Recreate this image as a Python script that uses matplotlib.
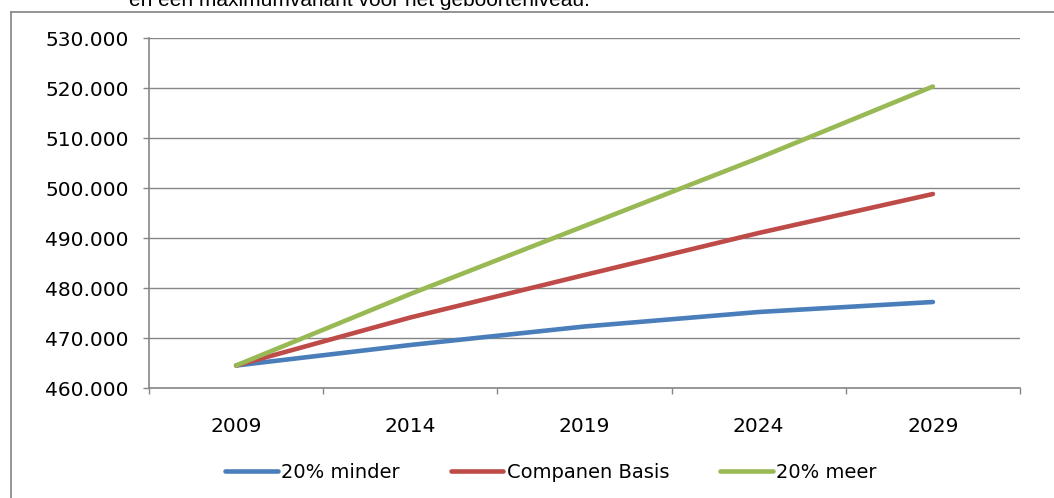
import numpy as np
import matplotlib.pyplot as plt
from matplotlib.lines import Line2D

plt.rcParams['font.family'] = ['DejaVu Sans']

# data
jaren = ['2009', '2014', '2019', '2024', '2029']
minder = [464.5, 468.6, 472.3, 475.2, 477.2]
basis = [464.5, 474.1, 482.6, 491.0, 498.8]
meer = [464.5, 478.8, 492.4, 506.0, 520.3]
reeksen = ['20% minder', 'Companen Basis', '20% meer']
kleuren = ['#4A7EBB', '#BE4B48', '#98B954']

W, H = 1054, 498
fig = plt.figure(figsize=(W / 100, H / 100), dpi=100)
ax = fig.add_axes([149 / W, 1 - 388 / H, 871 / W, 350 / H])

x = np.arange(len(jaren))
for vals, naam, kleur in zip([minder, basis, meer], reeksen, kleuren):
    ax.plot(x, vals, color=kleur, lw=3.3, solid_capstyle='round', label=naam)

ax.set_xlim(-0.5, len(jaren) - 0.5)
ax.set_ylim(460, 530)
ax.set_yticks(np.arange(460, 531, 10))
ax.set_yticklabels([f'{v:d}.000' for v in range(460, 531, 10)])

# ticks on category boundaries, labels in the middle
ax.set_xticks(np.arange(-0.5, len(jaren), 1.0))
ax.set_xticklabels([])
ax.set_xticks(x, minor=True)
ax.set_xticklabels(jaren, minor=True)
ax.tick_params(axis='x', which='major', length=4.5, width=1, color='#868686')
ax.tick_params(axis='x', which='minor', length=0, pad=21, labelsize=14.5)
ax.tick_params(axis='y', length=4.5, width=1, color='#868686', pad=10, labelsize=14.5)

ax.grid(axis='y', color='#868686', lw=1)
ax.set_axisbelow(True)
for s in ['top', 'right']:
    ax.spines[s].set_visible(False)
for s in ['left', 'bottom']:
    ax.spines[s].set_color('#868686')
    ax.spines[s].set_linewidth(1.2)

ax.legend(loc='center', bbox_to_anchor=(551 / W, 26 / H), bbox_transform=fig.transFigure,
          ncol=3, frameon=False, fontsize=14, handlelength=2.7, handletextpad=0.2,
          columnspacing=2.6)

# outer chart frame (cut off at right and bottom)
fig.add_artist(Line2D([10.5 / W, 10.5 / W], [0, 1 - 12 / H], color='#8c8c8c', lw=1.3))
fig.add_artist(Line2D([10.5 / W, 1], [1 - 12 / H, 1 - 12 / H], color='#8c8c8c', lw=1.3))

# caption above the chart, cut off as in the original
fig.text(129 / W, 1 - 6 / H, 'en een maximumvariant voor het geboorteniveau.',
         family='Liberation Sans', fontsize=15, va='baseline', ha='left')

fig.savefig('out.png', dpi=100)
